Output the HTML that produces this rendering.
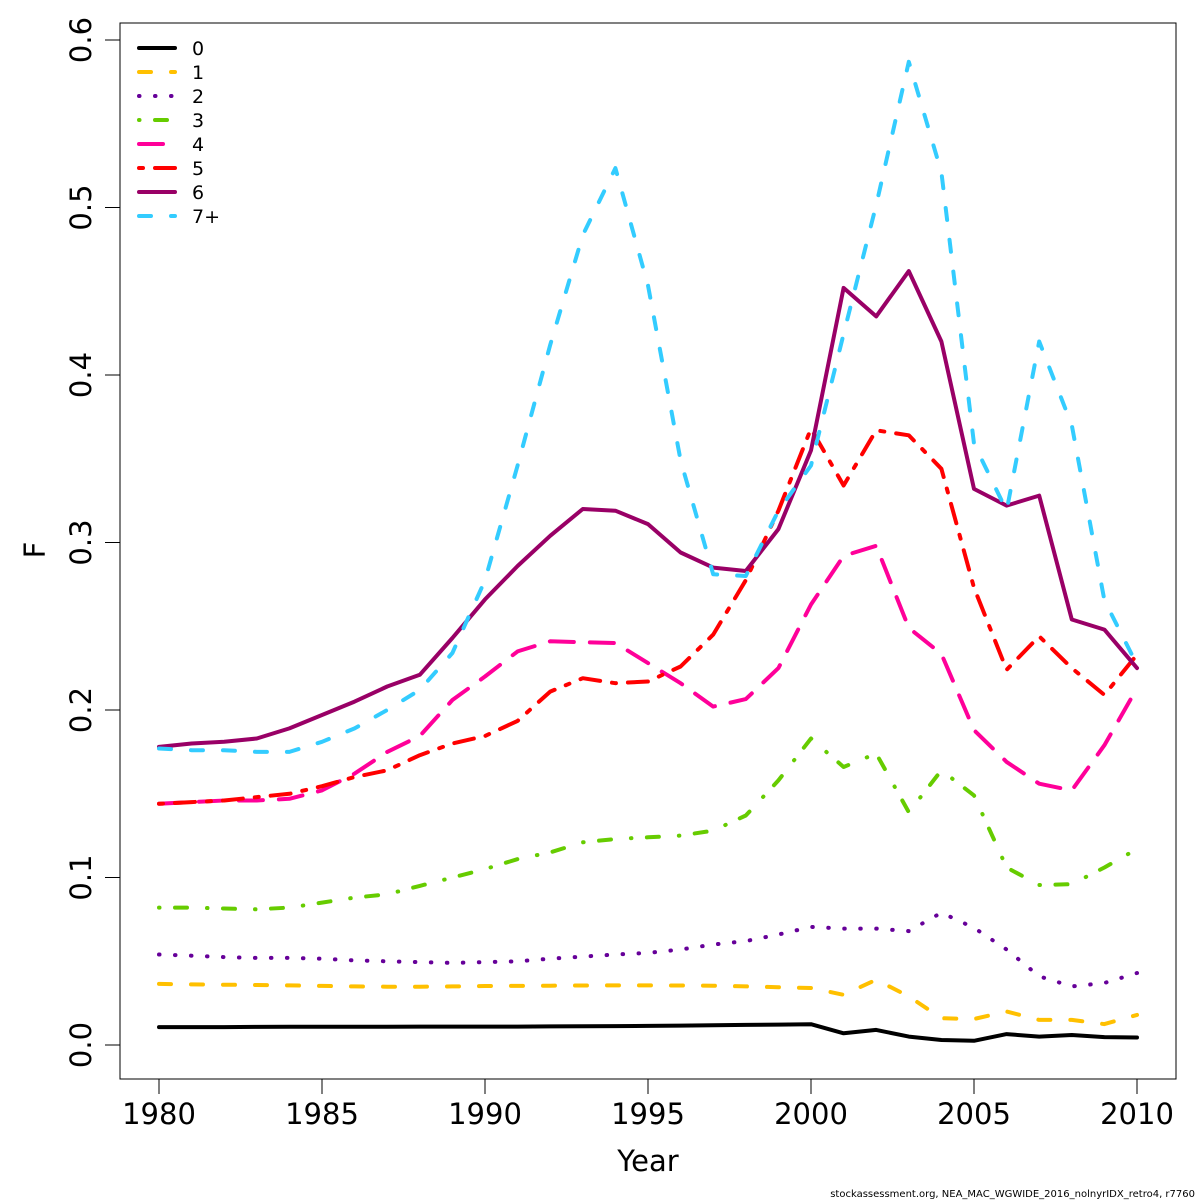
<!DOCTYPE html>
<html><head><meta charset="utf-8"><style>
body{margin:0;background:#fff}
svg{display:block;font-family:"DejaVu Sans","Liberation Sans",sans-serif}
</style></head><body>
<svg id="chart" width="1200" height="1200" xmlns="http://www.w3.org/2000/svg">
<rect x="0" y="0" width="1200" height="1200" fill="#fff"/>
<rect x="120" y="23" width="1056" height="1056" fill="none" stroke="#000" stroke-width="1"/>
<g id="axes"></g>
<g id="series"></g>
<g id="legend"></g>
<text x="648" y="1171" font-size="29" text-anchor="middle">Year</text>
<text x="45" y="550" font-size="29" text-anchor="middle" transform="rotate(-90 45 550)">F</text>
<text x="1195" y="1197" font-size="10" text-anchor="end">stockassessment.org, NEA_MAC_WGWIDE_2016_nolnyrIDX_retro4, r7760</text>
</svg>
<script>
const years = [];
for (let y = 1980; y <= 2010; y++) years.push(y);
const xTicks = [1980,1985,1990,1995,2000,2005,2010];
const yTicks = [0,0.1,0.2,0.3,0.4,0.5,0.6];
const yTickLabels = ["0.0","0.1","0.2","0.3","0.4","0.5","0.6"];
const seriesNames = ["0","1","2","3","4","5","6","7+"];
const f0 = [0.0107,0.0107,0.0107,0.0108,0.0109,0.0109,0.0109,0.0109,0.011,0.011,0.011,0.011,0.0111,0.0112,0.0113,0.0114,0.0116,0.0118,0.012,0.0122,0.0124,0.007,0.009,0.005,0.003,0.0025,0.0065,0.005,0.006,0.0047,0.0045];
const f1 = [0.0365,0.0362,0.036,0.0358,0.0356,0.0353,0.035,0.0348,0.0348,0.035,0.0352,0.0353,0.0354,0.0355,0.0356,0.0356,0.0355,0.0354,0.035,0.0345,0.034,0.030,0.039,0.029,0.016,0.0155,0.020,0.015,0.015,0.0125,0.018];
const f2 = [0.054,0.0533,0.0525,0.052,0.052,0.0515,0.0505,0.050,0.0495,0.049,0.0495,0.050,0.0515,0.0528,0.054,0.055,0.057,0.060,0.062,0.066,0.0705,0.0695,0.0695,0.068,0.079,0.070,0.057,0.041,0.035,0.037,0.043];
const f3 = [0.082,0.082,0.0815,0.081,0.082,0.085,0.088,0.090,0.095,0.100,0.105,0.111,0.115,0.121,0.123,0.124,0.125,0.128,0.137,0.158,0.183,0.166,0.174,0.139,0.164,0.149,0.106,0.0955,0.096,0.106,0.117];
const f4 = [0.144,0.145,0.146,0.146,0.147,0.152,0.162,0.175,0.1845,0.206,0.220,0.235,0.241,0.2405,0.240,0.228,0.216,0.202,0.2065,0.225,0.263,0.292,0.298,0.249,0.2335,0.188,0.169,0.156,0.152,0.179,0.213];
const f5 = [0.144,0.145,0.146,0.148,0.150,0.1545,0.160,0.164,0.173,0.180,0.1845,0.1935,0.211,0.219,0.216,0.217,0.226,0.245,0.2775,0.319,0.368,0.334,0.367,0.364,0.344,0.273,0.224,0.244,0.225,0.209,0.233];
const f6 = [0.178,0.180,0.181,0.183,0.189,0.197,0.205,0.214,0.221,0.243,0.266,0.286,0.304,0.320,0.319,0.311,0.294,0.285,0.283,0.308,0.355,0.452,0.435,0.462,0.420,0.332,0.322,0.328,0.254,0.248,0.225];
const f7 = [0.177,0.176,0.176,0.175,0.175,0.181,0.189,0.200,0.212,0.234,0.2775,0.346,0.418,0.4835,0.5235,0.4535,0.349,0.281,0.280,0.319,0.346,0.4245,0.5015,0.587,0.521,0.359,0.319,0.420,0.370,0.2655,0.227];
const allSeries = [f0,f1,f2,f3,f4,f5,f6,f7];
const colors = ["#000000","#FFC000","#660099","#66CC00","#FF0099","#FF0000","#990066","#33CCFF"];
const dashes = ["","12 20","0.5 15.5","0.5 15.5 12 20","24 16","4 12 20 12","","12 20"];

const NS = "http://www.w3.org/2000/svg";
const xS = v => 159 + (v - 1980) * (1137 - 159) / 30;
const yS = v => 1045 - v * (1045 - 40) / 0.6;
function mk(tag, attrs, parent){const e=document.createElementNS(NS,tag);for(const k in attrs)e.setAttribute(k,attrs[k]);parent.appendChild(e);return e;}

const axes = document.getElementById("axes");
mk("line",{x1:xS(1980),x2:xS(2010),y1:1079,y2:1079,stroke:"#000"},axes);
xTicks.forEach(t=>{
  const l=mk("line",{x1:xS(t),x2:xS(t),y1:1079,y2:1094,stroke:"#000"},axes);
  
  
  const tx=mk("text",{x:xS(t),y:1124,"font-size":29,"text-anchor":"middle"},axes);
  tx.textContent=t;
  
  
});
mk("line",{x1:120,x2:120,y1:yS(0),y2:yS(0.6),stroke:"#000"},axes);
yTicks.forEach((t,i)=>{
  const l=mk("line",{x1:105,x2:120,y1:yS(t),y2:yS(t),stroke:"#000"},axes);
  
  
  const tx=mk("text",{x:91,y:yS(t),"font-size":29,"text-anchor":"middle",transform:`rotate(-90 91 ${yS(t)})`},axes);
  tx.textContent=yTickLabels[i];
  
  
});

const sg = document.getElementById("series");
allSeries.forEach((s,i)=>{
  const d = s.map((v,j)=>(j?"L":"M")+xS(years[j]).toFixed(1)+" "+yS(v).toFixed(1)).join(" ");
  const p = mk("path",{d:d,fill:"none",stroke:colors[i],"stroke-width":4,"stroke-dasharray":dashes[i]||"none","stroke-linejoin":"round","stroke-linecap":"round"},sg);
  
  
});

const lg = document.getElementById("legend");
seriesNames.forEach((n,i)=>{
  const y = 48 + i*24;
  const g = mk("g",{},lg);
  
  
  mk("line",{x1:139,x2:175,y1:y,y2:y,stroke:colors[i],"stroke-width":4,"stroke-dasharray":dashes[i]||"none","stroke-linecap":"round"},g);
  const t = mk("text",{x:192,y:y+7,"font-size":19},g);
  t.textContent = n;
});
</script>
</body></html>
